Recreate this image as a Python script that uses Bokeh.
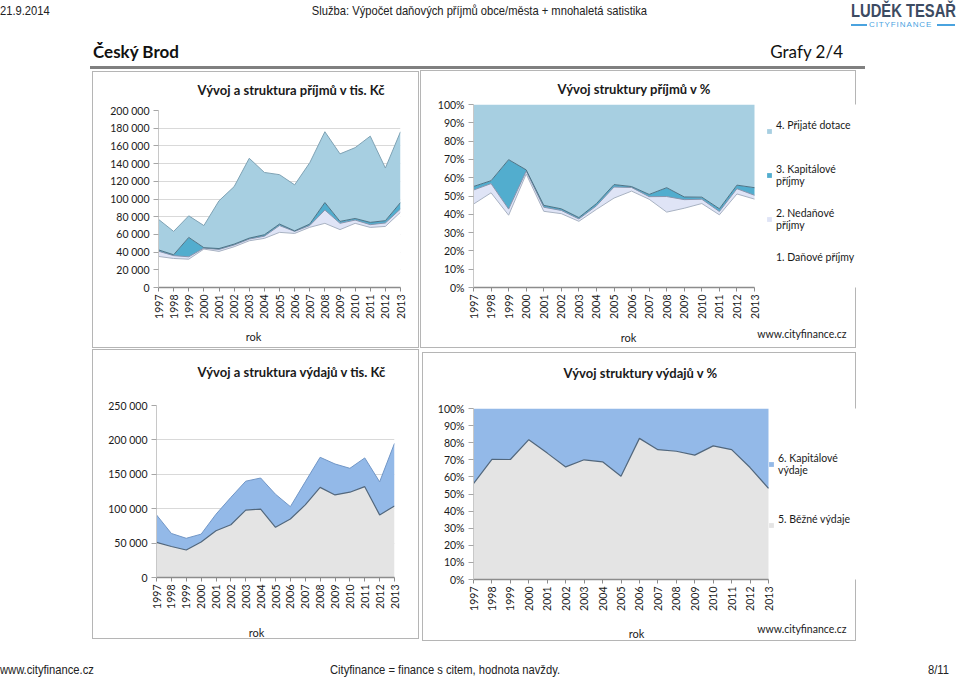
import numpy as np
from bokeh.plotting import figure
from bokeh.models import Range1d, FixedTicker, Label, Legend, LegendItem, Div, Spacer
from bokeh.layouts import column, row
from bokeh.embed import file_html
from bokeh.resources import INLINE

# ---------------- data (tis. Kč) ----------------
years = [1997, 1998, 1999, 2000, 2001, 2002, 2003, 2004, 2005,
         2006, 2007, 2008, 2009, 2010, 2011, 2012, 2013]

danove_prijmy = [35100, 32800, 32000, 43400, 40800, 46000, 52800, 55500, 62300,
                 61100, 68000, 72500, 65400, 72500, 67900, 69000, 85000]
nedanove_prijmy = [5900, 3200, 2700, 1100, 2200, 2000, 1900, 2500, 7700,
                   2300, 2000, 15000, 7100, 3700, 3100, 3900, 3700]
kapitalove_prijmy = [1500, 1000, 21900, 500, 1000, 1000, 1100, 1600, 1700,
                     600, 1700, 8500, 2200, 1800, 2600, 2600, 7300]
prijate_dotace = [34500, 26400, 24400, 25000, 54000, 65000, 90200, 70400, 55800,
                  52000, 69300, 80000, 76300, 80000, 97400, 59500, 80000]

bezne_vydaje = [51000, 45000, 40000, 51500, 68000, 76700, 98000, 99500, 73000,
                85000, 105500, 131000, 120000, 124000, 132000, 91000, 104000]
kapitalove_vydaje = [40000, 19000, 17000, 11500, 24000, 39800, 42000, 45100, 48000,
                     18000, 33500, 43700, 45000, 34700, 41800, 48000, 91000]

prijmy_ticks = [0, 20000, 40000, 60000, 80000, 100000, 120000, 140000, 160000, 180000, 200000]
vydaje_ticks = [0, 50000, 100000, 150000, 200000, 250000]
pct_ticks = [0, 10, 20, 30, 40, 50, 60, 70, 80, 90, 100]

prijmy_names = ["1. Daňové příjmy", "2. Nedaňové\npříjmy", "3. Kapitálové\npříjmy", "4. Přijaté dotace"]
vydaje_names = ["5. Běžné výdaje", "6. Kapitálové\nvýdaje"]

# ---------------- styles ----------------
FONT = "Lato"
TXT = "#1a1a1a"
BORDER = "#b5b5b5"
LEG_SIZE = 10.5
LINE_H = LEG_SIZE * 1.2

C_DAN = "#ffffff"
C_NED = "#dfe4f6"
C_KAP = "#52adce"
C_DOT = "#a7cfe1"
C_BEZ = "#e4e4e4"
C_KVY = "#93b9e8"


def panel_style(w, h, top=0, bottom=0):
    """Panel frame drawn as CSS background layers (box from y=top to y=h-bottom)."""
    g = f"linear-gradient({BORDER},{BORDER})"
    y0, y1 = top, h - bottom
    bh = y1 - y0
    return {"background": (f"{g} 0px {y0}px/{w}px 1px no-repeat, "
                           f"{g} 0px {y1 - 1}px/{w}px 1px no-repeat, "
                           f"{g} 0px {y0}px/1px {bh}px no-repeat, "
                           f"{g} {w - 1}px {y0}px/1px {bh}px no-repeat, "
                           f"linear-gradient(#ffffff,#ffffff) 0px {y0}px/{w}px {bh}px no-repeat")}


def space_fmt(v):
    return f"{v:,}".replace(",", " ")


def make_fig(fx, fy, w, h, x_left_px, x_right_px, fr, ft, fb, y_end, yticks, ylabels,
             grid=True, box_top=0):
    """x_left_px / x_right_px: page x of the first / last year; fr: page x of the frame's right edge."""
    fl = x_left_px
    px_per_year = (x_right_px - x_left_px) / (years[-1] - years[0])
    x_end = years[-1] + (fr - x_right_px) / px_per_year
    p = figure(width=w, height=h, output_backend="svg", toolbar_location=None,
               x_range=Range1d(years[0], x_end), y_range=Range1d(0, y_end),
               min_border_left=fl - fx, min_border_right=fx + w - fr,
               min_border_top=ft - fy, min_border_bottom=fy + h - fb,
               background_fill_color="white", border_fill_color=None,
               outline_line_color=None, title=None, styles=panel_style(w, h, top=box_top))
    p.xaxis.ticker = FixedTicker(ticks=years)
    p.xaxis.bounds = (years[0], years[-1])
    p.xaxis.major_label_orientation = np.pi / 2
    p.xaxis.major_label_text_font = FONT
    p.xaxis.major_label_text_font_size = "10.5px"
    p.xaxis.major_label_text_color = TXT
    p.xaxis.major_label_standoff = 3
    p.xaxis.major_tick_in = 0
    p.xaxis.major_tick_out = 4
    p.xaxis.minor_tick_line_color = None
    p.xaxis.axis_line_color = "#8c8c8c"
    p.xaxis.axis_line_width = 1.5
    p.xaxis.major_tick_line_color = "#8c8c8c"

    p.yaxis.ticker = FixedTicker(ticks=yticks)
    p.yaxis.major_label_overrides = {t_: l_ for t_, l_ in zip(yticks, ylabels)}
    p.yaxis.major_label_text_font = FONT
    p.yaxis.major_label_text_font_size = "10.5px"
    p.yaxis.major_label_text_color = TXT
    p.yaxis.major_label_standoff = 4
    p.yaxis.major_tick_in = 0
    p.yaxis.major_tick_out = 5
    p.yaxis.minor_tick_line_color = None
    p.yaxis.axis_line_color = "#c8c8c8"
    p.yaxis.major_tick_line_color = "#a6a6a6"

    p.xgrid.visible = False
    p.ygrid.ticker = FixedTicker(ticks=yticks)
    p.ygrid.grid_line_color = "#d9d9d9" if grid else None
    geom = (fl, fr, ft, fb, years[0], x_end, 0, y_end)
    return p, geom


def to_data(geom, px, py):
    fl, fr, ft, fb, x0, x1, y0, y1 = geom
    return (x0 + (px - fl) / (fr - fl) * (x1 - x0),
            y0 + (fb - py) / (fb - ft) * (y1 - y0))


def add_text(p, geom, side, px, py, text, align="center", size="11px", bold=False):
    x, y = to_data(geom, px, py)
    p.add_layout(Label(x=x, y=y, text=text, text_align=align, text_baseline="middle",
                       text_font=FONT, text_font_size=size,
                       text_font_style="bold" if bold else "normal", text_color=TXT), side)


def add_legend(p, geom, labels, renderers, glyph_px, first_line_py, spacing):
    fl, fr, ft, fb = geom[:4]
    top_py = first_line_py - LINE_H / 2
    height = len(labels) * 2 * LINE_H + (len(labels) - 1) * spacing
    lg = Legend(items=[LegendItem(label=l, renderers=[r]) for l, r in zip(labels, renderers)],
                location=(glyph_px - fl, round(fb - (top_py + height))), padding=0, margin=0,
                border_line_color=None, background_fill_alpha=0,
                glyph_width=6, glyph_height=6, label_standoff=4, spacing=spacing,
                label_text_font=FONT, label_text_font_size=f"{LEG_SIZE}px", label_text_color=TXT,
                label_height=12)
    p.add_layout(lg)


yr = np.array(years, dtype=float)

# ---------------- příjmy (absolute) ----------------
c1 = np.array(danove_prijmy, dtype=float)
c2 = c1 + np.array(nedanove_prijmy)
c3 = c2 + np.array(kapitalove_prijmy)
c4 = c3 + np.array(prijate_dotace)

p1, g1 = make_fig(92, 71, 327, 277, 158, 400, 400, 110, 287, 200000, prijmy_ticks,
                  [space_fmt(t) for t in prijmy_ticks])
p1.varea(x=yr, y1=0, y2=c1, fill_color=C_DAN)
p1.varea(x=yr, y1=c1, y2=c2, fill_color=C_NED)
p1.varea(x=yr, y1=c2, y2=c3, fill_color=C_KAP)
p1.varea(x=yr, y1=c3, y2=c4, fill_color=C_DOT)
p1.line(yr, c1, line_color="#a8b2c2", line_width=1)
p1.line(yr, c2, line_color="#8794ad", line_width=1)
p1.line(yr, c3, line_color="#4d7386", line_width=1)
p1.line(yr, c4, line_color="#7fa2b4", line_width=1)
add_text(p1, g1, "above", 197, 89, "Vývoj a struktura příjmů v tis. Kč", align="left", size="13px", bold=True)
add_text(p1, g1, "below", 253, 336, "rok")

# ---------------- příjmy (%) ----------------
s1 = c1 / c4 * 100
s2 = c2 / c4 * 100
s3 = c3 / c4 * 100
s4 = c4 / c4 * 100
p2, g2 = make_fig(420, 65, 436, 283, 473, 754, 856, 104, 287, 100, pct_ticks,
                  [f"{t}%" for t in pct_ticks], grid=False, box_top=5)
r1 = p2.varea(x=yr, y1=0, y2=s1, fill_color=C_DAN)
r2 = p2.varea(x=yr, y1=s1, y2=s2, fill_color=C_NED)
r3 = p2.varea(x=yr, y1=s2, y2=s3, fill_color=C_KAP)
r4 = p2.varea(x=yr, y1=s3, y2=s4, fill_color=C_DOT)
p2.line(yr, s1, line_color="#a8b2c2", line_width=1)
p2.line(yr, s2, line_color="#8794ad", line_width=1)
p2.line(yr, s3, line_color="#4d7386", line_width=1)
add_text(p2, g2, "above", 557, 88, "Vývoj struktury příjmů v %", align="left", size="13px", bold=True)
add_text(p2, g2, "below", 628, 337, "rok")
add_text(p2, g2, "below", 846, 333, "www.cityfinance.cz", align="right", size="10.5px")
add_legend(p2, g2, [prijmy_names[3] + "\n ", prijmy_names[2], prijmy_names[1], prijmy_names[0] + "\n "],
           [r4, r3, r2, r1], 766, 121, 20)

# ---------------- výdaje (absolute) ----------------
b1 = np.array(bezne_vydaje, dtype=float)
b2 = b1 + np.array(kapitalove_vydaje)
p3, g3 = make_fig(92, 349, 327, 290, 156, 394, 394, 405, 577, 250000, vydaje_ticks,
                  [space_fmt(t) for t in vydaje_ticks])
p3.varea(x=yr, y1=0, y2=b1, fill_color=C_BEZ)
p3.varea(x=yr, y1=b1, y2=b2, fill_color=C_KVY)
p3.line(yr, b1, line_color="#52677c", line_width=1.2)
p3.line(yr, b2, line_color="#7196c6", line_width=1)
add_text(p3, g3, "above", 197, 371, "Vývoj a struktura výdajů v tis. Kč", align="left", size="13px", bold=True)
add_text(p3, g3, "below", 256, 632, "rok")

# ---------------- výdaje (%) ----------------
v1 = b1 / b2 * 100
v2 = b2 / b2 * 100
p4, g4 = make_fig(422, 352, 434, 289, 473, 768, 856, 408, 579, 100, pct_ticks,
                  [f"{t}%" for t in pct_ticks], grid=False)
r5 = p4.varea(x=yr, y1=0, y2=v1, fill_color=C_BEZ)
r6 = p4.varea(x=yr, y1=v1, y2=v2, fill_color=C_KVY)
p4.line(yr, v1, line_color="#52677c", line_width=1.2)
add_text(p4, g4, "above", 563, 372, "Vývoj struktury výdajů v %", align="left", size="13px", bold=True)
add_text(p4, g4, "below", 636, 633, "rok")
add_text(p4, g4, "below", 846, 628, "www.cityfinance.cz", align="right", size="10.5px")
add_legend(p4, g4, [vydaje_names[1], vydaje_names[0] + "\n "], [r6, r5], 768, 456, 37)

# ---------------- page header / footer ----------------
SANS = "'Liberation Sans',Arial,sans-serif"


def box(text, left, top, style, right=None, sx=None):
    pos = f"right:{right}px;" if right is not None else f"left:{left}px;"
    tr = f"transform:scaleX({sx});transform-origin:left top;" if sx else ""
    return (f'<div style="position:absolute;{pos}top:{top}px;white-space:nowrap;'
            f'line-height:1;{tr}{style}">{text}</div>')


hdr_html = (
    '<div style="position:relative;width:950px;height:65px;">'
    + box("21.9.2014", 0, 4, f"font-family:{SANS};font-size:13px;color:#222;", sx=0.86)
    + '<div style="position:absolute;left:0;top:4px;width:959px;text-align:center;'
      f'line-height:1;font-family:{SANS};font-size:13px;color:#222;'
      'transform:scaleX(0.86);transform-origin:479px 0;">'
      'Služba: Výpočet daňových příjmů obce/města + mnohaletá satistika</div>'
    + box("LUDĚK TESAŘ", 851, 2, f"font-family:{SANS};font-size:18px;font-weight:bold;color:#3c4b62;", sx=0.82)
    + '<div style="position:absolute;left:851px;top:24px;width:16px;height:1.5px;background:#4aa3df;"></div>'
    + box("CITYFINANCE", 869, 21, f"font-family:{SANS};font-size:8px;letter-spacing:0.9px;color:#4aa3df;")
    + '<div style="position:absolute;left:937px;top:24px;width:18px;height:1.5px;background:#4aa3df;"></div>'
    + box("Český Brod", 93, 43, f"font-family:{FONT};font-size:17px;font-weight:bold;color:#111;")
    + box("Grafy 2/4", 0, 43, f"font-family:{FONT};font-size:17px;color:#111;", right=107)
    + '<div style="position:absolute;left:90px;top:66px;width:775px;height:2.5px;background:#808080;z-index:5;"></div>'
    + '</div>'
)
header = Div(text=hdr_html, width=950, height=65, margin=0, styles={"overflow": "visible"})

ftr_html = (
    '<div style="position:relative;width:950px;height:30px;">'
    + box("www.cityfinance.cz", 0, 22, f"font-family:{SANS};font-size:13px;color:#222;", sx=0.86)
    + box("Cityfinance = finance s citem, hodnota navždy.", 330, 22,
          f"font-family:{SANS};font-size:13px;color:#222;", sx=0.86)
    + box("8/11", 928, 22, f"font-family:{SANS};font-size:13px;color:#222;", sx=0.86)
    + '</div>'
)
footer = Div(text=ftr_html, width=950, height=30, margin=0, styles={"overflow": "visible"})

layout = column(
    header,
    row(Spacer(width=92, height=283), column(Spacer(width=327, height=6), p1, spacing=0),
        Spacer(width=1, height=283), p2, spacing=0),
    Spacer(width=10, height=1),
    row(Spacer(width=92, height=292), p3, Spacer(width=3, height=292),
        column(Spacer(width=434, height=3), p4, spacing=0), spacing=0),
    footer,
    spacing=0,
)

open("out.html", "w").write(file_html(layout, INLINE))
